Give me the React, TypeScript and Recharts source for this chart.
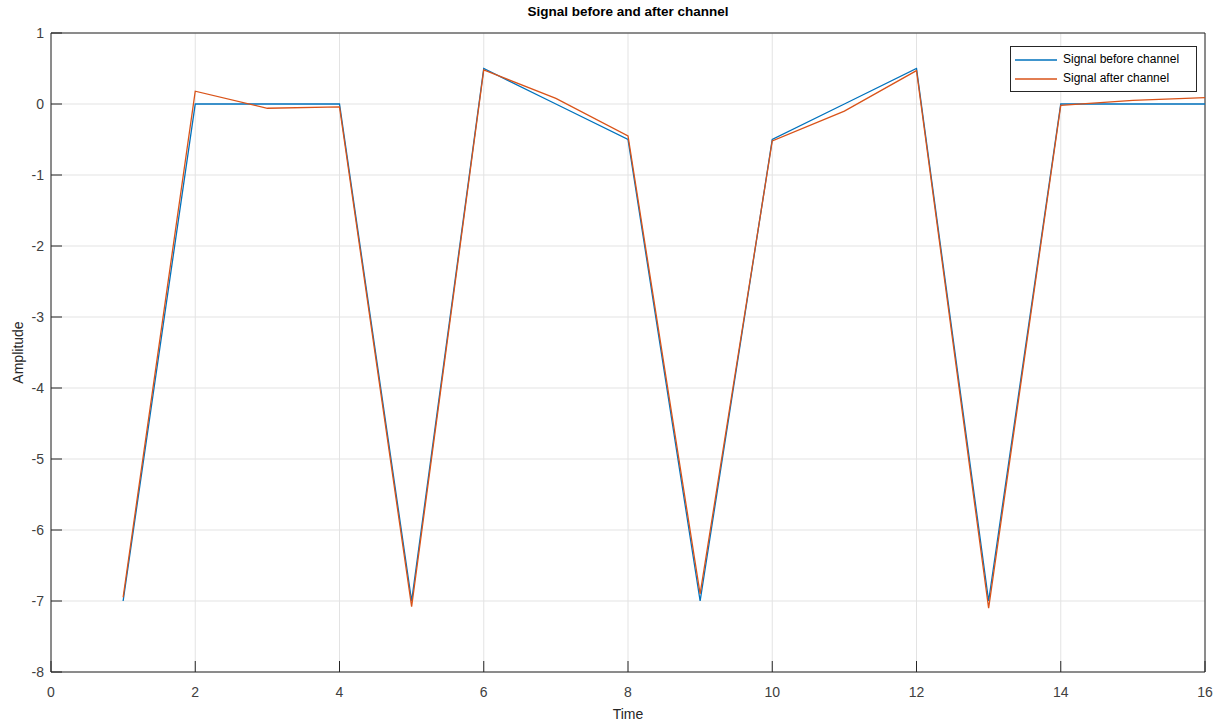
import React from 'react';
import { LineChart, Line, XAxis, YAxis, CartesianGrid, ReferenceLine } from 'recharts';

const time = [1, 2, 3, 4, 5, 6, 7, 8, 9, 10, 11, 12, 13, 14, 15, 16];
const before = [-7, 0, 0, 0, -7, 0.5, 0, -0.5, -7, -0.5, 0, 0.5, -7, 0, 0, 0];
const after = [-6.95, 0.18, -0.06, -0.04, -7.08, 0.48, 0.08, -0.45, -6.9, -0.52, -0.1, 0.47, -7.1, -0.02, 0.05, 0.09];

const xTicks = [0, 2, 4, 6, 8, 10, 12, 14, 16];
const yTicks = [-8, -7, -6, -5, -4, -3, -2, -1, 0, 1];

const data = time.map((t, i) => ({ t, before: before[i], after: after[i] }));

const BLUE = '#0072BD';
const ORANGE = '#D95319';
const AXIS = '#262626';
const FONT = '"Liberation Sans", Arial, sans-serif';

const noLabel = () => <g />;

const legendItems = [
  { name: 'Signal before channel', color: BLUE },
  { name: 'Signal after channel', color: ORANGE },
];

const LegendBox = () => (
  <div
    style={{
      position: 'absolute',
      left: 1010,
      top: 46,
      width: 181,
      border: '1px solid #262626',
      background: '#fff',
      padding: '3px 0 3px 4px',
      fontFamily: FONT,
      fontSize: 12,
      color: '#000',
      lineHeight: '19px',
    }}
  >
    {legendItems.map((item) => (
      <div key={item.name} style={{ display: 'flex', alignItems: 'center' }}>
        <svg width={42} height={10} style={{ marginRight: 6 }}>
          <line x1={0} y1={5} x2={42} y2={5} stroke={item.color} strokeWidth={1.3} />
        </svg>
        <span>{item.name}</span>
      </div>
    ))}
  </div>
);

const App: React.FC = () => {
  return (
    <div style={{ position: 'absolute', left: 0, top: 0, width: 1224, height: 727, background: '#fff' }}>
      <div
        style={{
          position: 'absolute',
          left: 0,
          width: 1256,
          top: 4,
          textAlign: 'center',
          fontFamily: FONT,
          fontWeight: 'bold',
          fontSize: 13.5,
          color: '#000',
        }}
      >
        Signal before and after channel
      </div>
      <LineChart width={1224} height={727} data={data} margin={{ top: 33, right: 19, left: 11, bottom: 5 }}>
        <CartesianGrid stroke="#e3e3e3" xAxisId="x" yAxisId="y" />
        <XAxis
          xAxisId="x"
          dataKey="t"
          type="number"
          domain={[0, 16]}
          ticks={xTicks}
          interval={0}
          height={50}
          tickSize={-11}
          tickMargin={26}
          stroke={AXIS}
          tick={{ fill: '#404040', fontSize: 14, fontFamily: FONT }}
          label={{ value: 'Time', position: 'insideBottom', offset: 3, fill: '#262626', fontSize: 14, fontFamily: FONT }}
        />
        <XAxis
          xAxisId="top"
          dataKey="t"
          type="number"
          orientation="top"
          domain={[0, 16]}
          ticks={xTicks}
          interval={0}
          height={0}
          tickSize={-11}
          stroke={AXIS}
          tick={noLabel}
        />
        <YAxis
          yAxisId="y"
          type="number"
          domain={[-8, 1]}
          ticks={yTicks}
          interval={0}
          width={40}
          tickSize={-11}
          tickMargin={18}
          stroke={AXIS}
          tick={{ fill: '#404040', fontSize: 14, fontFamily: FONT }}
          label={{
            value: 'Amplitude',
            angle: -90,
            position: 'insideLeft',
            offset: 7,
            fill: '#262626',
            fontSize: 14,
            fontFamily: FONT,
            style: { textAnchor: 'middle' },
          }}
        />
        <YAxis
          yAxisId="right"
          orientation="right"
          type="number"
          domain={[-8, 1]}
          ticks={yTicks}
          interval={0}
          width={0}
          tickSize={-11}
          stroke={AXIS}
          tick={noLabel}
        />
        <ReferenceLine xAxisId="x" yAxisId="y" y={1} stroke={AXIS} strokeWidth={1} />
        <ReferenceLine xAxisId="x" yAxisId="y" x={16} stroke={AXIS} strokeWidth={1} />
        <Line
          xAxisId="x"
          yAxisId="y"
          type="linear"
          dataKey="before"
          name="Signal before channel"
          stroke={BLUE}
          strokeWidth={1.3}
          dot={false}
          isAnimationActive={false}
        />
        <Line
          xAxisId="x"
          yAxisId="y"
          type="linear"
          dataKey="after"
          name="Signal after channel"
          stroke={ORANGE}
          strokeWidth={1.3}
          dot={false}
          isAnimationActive={false}
        />
      </LineChart>
      <LegendBox />
    </div>
  );
};

export default App;
